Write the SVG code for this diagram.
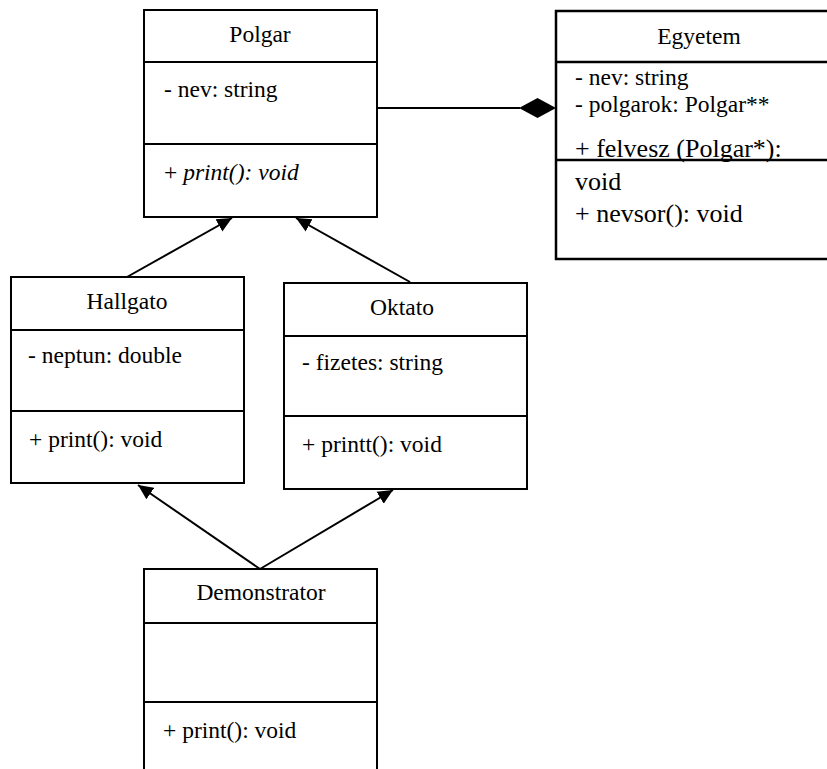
<svg xmlns="http://www.w3.org/2000/svg" width="827" height="769" viewBox="0 0 827 769">
<style>
.box{fill:#fff;stroke:#000;stroke-width:2}
.div{stroke:#000;stroke-width:2}
.t{font-family:"Liberation Serif","Times New Roman",serif;font-size:23.5px;fill:#000}
.c{text-anchor:middle}
.big{font-size:26px}
.it{font-style:italic}
.conn{stroke:#000;stroke-width:2;fill:none}
</style>
<defs>
<marker id="tri" markerUnits="userSpaceOnUse" markerWidth="16" markerHeight="16" refX="15" refY="7" orient="auto" viewBox="0 0 16 14">
<path d="M0,0 L15,7 L0,14 z" fill="#000"/>
</marker>
</defs>
<rect width="827" height="769" fill="#fff"/>
<g id="connectors">
<line class="conn" x1="127" y1="277" x2="232" y2="218" marker-end="url(#tri)"/>
<line class="conn" x1="410" y1="282" x2="296" y2="218" marker-end="url(#tri)"/>
<line class="conn" x1="260" y1="569" x2="138" y2="485" marker-end="url(#tri)"/>
<line class="conn" x1="260" y1="569" x2="393" y2="490" marker-end="url(#tri)"/>
<line class="conn" x1="377" y1="108" x2="520" y2="108"/>
<path d="M519,108 L537.5,98 L556,108 L537.5,118 z" fill="#000"/>
</g>
<g id="Polgar">
<rect class="box" x="144" y="10" width="233" height="207"/>
<line class="div" x1="144" y1="62" x2="377" y2="62"/>
<line class="div" x1="144" y1="144" x2="377" y2="144"/>
<text class="t c" x="260" y="42">Polgar</text>
<text class="t" x="164" y="97">- nev: string</text>
<text class="t" x="164" y="180">+ <tspan class="it">print(): void</tspan></text>
</g>
<g id="Egyetem">
<rect class="box" x="556" y="11" width="290" height="248" style="stroke-width:2.5"/>
<line class="div" x1="556" y1="62" x2="827" y2="62" style="stroke-width:2.5"/>
<text class="t c" x="699" y="44">Egyetem</text>
<text class="t" x="575" y="85">- nev: string</text>
<text class="t" x="575" y="112">- polgarok: Polgar**</text>
<text class="t big" x="575" y="157">+ felvesz (Polgar*):</text>
<line class="div" x1="556" y1="160" x2="827" y2="160" style="stroke-width:2.5"/>
<text class="t big" x="575" y="190">void</text>
<text class="t big" x="575" y="222">+ nevsor(): void</text>
</g>
<g id="Hallgato">
<rect class="box" x="11" y="277" width="233" height="206"/>
<line class="div" x1="11" y1="330" x2="244" y2="330"/>
<line class="div" x1="11" y1="411" x2="244" y2="411"/>
<text class="t c" x="127" y="309">Hallgato</text>
<text class="t" x="28" y="363">- neptun: double</text>
<text class="t" x="29" y="447">+ print(): void</text>
</g>
<g id="Oktato">
<rect class="box" x="284" y="283" width="243" height="206"/>
<line class="div" x1="284" y1="336" x2="527" y2="336"/>
<line class="div" x1="284" y1="416" x2="527" y2="416"/>
<text class="t c" x="402" y="315">Oktato</text>
<text class="t" x="302" y="370">- fizetes: string</text>
<text class="t" x="302" y="452">+ printt(): void</text>
</g>
<g id="Demonstrator">
<path class="box" d="M144,780 L144,569 L377,569 L377,780"/>
<line class="div" x1="144" y1="623" x2="377" y2="623"/>
<line class="div" x1="144" y1="702" x2="377" y2="702"/>
<text class="t c" x="261" y="600">Demonstrator</text>
<text class="t" x="163" y="738">+ print(): void</text>
</g>
</svg>
